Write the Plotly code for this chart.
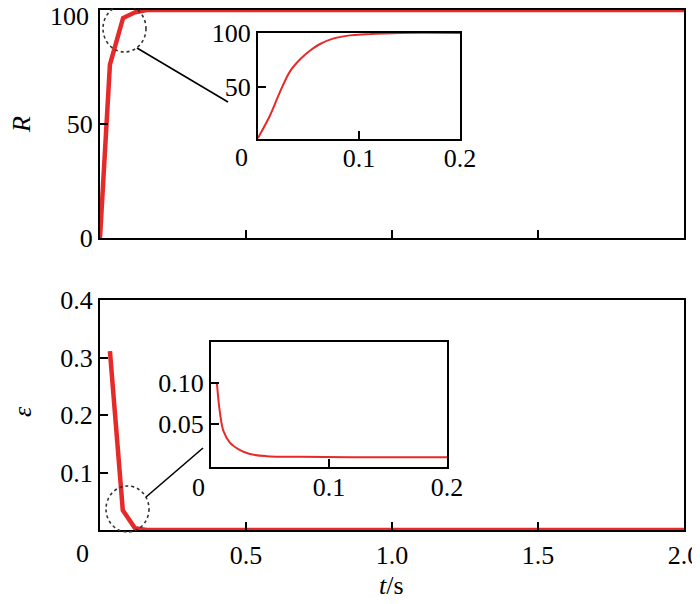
import plotly.graph_objects as go

# ---- data ----
t_main_R = [0, 0.034, 0.079, 0.12, 0.16, 2.0]
R_main = [0, 76, 96.5, 99, 100, 100]

t_main_eps = [0.034, 0.078, 0.12, 0.16, 2.0]
eps_main = [0.311, 0.0345, 0.003, 0.0, 0.0]

t_in_R = [0, 0.012, 0.022, 0.032, 0.042, 0.052, 0.061, 0.075, 0.091, 0.107, 0.14, 0.2]
R_in = [3, 24, 46, 65, 76, 84, 89.6, 95, 97.8, 98.8, 100, 100]

t_in_eps = [0.005, 0.0076, 0.0105, 0.016, 0.0246, 0.033, 0.047, 0.0755, 0.118, 0.2]
eps_in = [0.10, 0.0637, 0.042, 0.0277, 0.0185, 0.0137, 0.0112, 0.0104, 0.010, 0.010]

main_x_ticks = [0, 0.5, 1.0, 1.5, 2.0]
main_x_labels = ["", "0.5", "1.0", "1.5", "2.0"]
R_ticks = [0, 50, 100]
R_labels = ["0", "50", ""]          # top "100" placed separately (page edge)
eps_ticks = [0.1, 0.2, 0.3, 0.4]
inset_x_ticks = [0, 0.1, 0.2]
inset_x_labels = ["", "0.1", "0.2"]
inset_R_ticks = [50, 100]
inset_eps_ticks = [0.05, 0.10]

# page body has an 8px default margin; lay out in window pixels
OFF = 8
W, H = 700 - OFF, 604 - OFF
RED = "#e62a2a"
FONT = "'Liberation Serif', 'Times New Roman', Times, serif"
FS = 26


def px(x):
    return (x - OFF) / W


def py(y):
    return 1 - (y - OFF) / H


def xd(a, b):
    return [px(a), px(b)]


def yd(top, bottom):
    return [py(bottom), py(top)]


fig = go.Figure()
fig.add_trace(go.Scatter(x=t_main_R, y=R_main, mode="lines",
                         line=dict(color=RED, width=4.5), xaxis="x", yaxis="y"))
fig.add_trace(go.Scatter(x=t_main_eps, y=eps_main, mode="lines",
                         line=dict(color=RED, width=4.5), xaxis="x2", yaxis="y2"))
fig.add_trace(go.Scatter(x=t_in_R, y=R_in, mode="lines", line_shape="spline",
                         line=dict(color=RED, width=2), xaxis="x3", yaxis="y3"))
fig.add_trace(go.Scatter(x=t_in_eps, y=eps_in, mode="lines", line_shape="spline",
                         line=dict(color=RED, width=2), xaxis="x4", yaxis="y4"))

common = dict(showline=True, linecolor="black", linewidth=2, mirror=True,
              ticks="inside", ticklen=8, tickwidth=1.6, tickcolor="black",
              showgrid=False, zeroline=False, automargin=False,
              ticklabeloverflow="allow",
              tickfont=dict(family=FONT, size=FS, color="black"))

fig.update_layout(
    width=W, height=H, showlegend=False,
    margin=dict(l=0, r=0, t=0, b=0, autoexpand=False),
    font=dict(family=FONT, size=FS, color="black"),
    paper_bgcolor="white", plot_bgcolor="rgba(0,0,0,0)",
    xaxis=dict(domain=xd(100, 684), range=[0, 2.0], anchor="y",
               tickvals=main_x_ticks, showticklabels=False, **common),
    yaxis=dict(domain=yd(10, 238), range=[0, 100], anchor="x",
               tickvals=R_ticks, ticktext=R_labels, **common),
    xaxis2=dict(domain=xd(100, 684), range=[0, 2.0], anchor="y2",
                tickvals=main_x_ticks, ticktext=main_x_labels,
                ticklabelstandoff=1, **common),
    yaxis2=dict(domain=yd(300, 530), range=[0, 0.4], anchor="x2",
                tickvals=eps_ticks, tickformat=".1f", **common),
    xaxis3=dict(domain=xd(258, 460), range=[0, 0.2], anchor="y3",
                tickvals=inset_x_ticks, ticktext=inset_x_labels,
                ticklabelstandoff=-5, **common),
    yaxis3=dict(domain=yd(33, 139), range=[2, 100], anchor="x3",
                tickvals=inset_R_ticks, **common),
    xaxis4=dict(domain=xd(211, 447), range=[0, 0.2], anchor="y4",
                tickvals=inset_x_ticks, ticktext=inset_x_labels,
                ticklabelstandoff=-4, **common),
    yaxis4=dict(domain=yd(342, 467), range=[-0.002, 0.15], anchor="x4",
                tickvals=inset_eps_ticks, tickformat=".2f", **common),
)

shapes = [
    dict(type="circle", xref="paper", yref="paper", x0=px(103), x1=px(146),
         y0=py(52), y1=py(5), line=dict(color="#333333", width=1.6, dash="dot")),
    dict(type="circle", xref="paper", yref="paper", x0=px(106), x1=px(149),
         y0=py(532), y1=py(486), line=dict(color="#333333", width=1.6, dash="dot")),
    dict(type="line", xref="paper", yref="paper", x0=px(137), y0=py(48),
         x1=px(228), y1=py(102), line=dict(color="black", width=1.6)),
    dict(type="line", xref="paper", yref="paper", x0=px(146), y0=py(497),
         x1=px(203), y1=py(448), line=dict(color="black", width=1.6)),
]
fig.update_layout(shapes=shapes)

tf = dict(family=FONT, size=FS, color="black")
ann = dict(showarrow=False, font=tf, xanchor="center", yanchor="middle")
annotations = [
    dict(text=str(R_ticks[-1]), x=px(91), xref="paper", y=R_ticks[-1], yref="y",
         yshift=-6, showarrow=False, font=tf, xanchor="right", yanchor="middle"),
    dict(text="0", x=0, xref="x2", y=py(553), yref="paper", xshift=-17, **ann),
    dict(text="0", x=0, xref="x3", y=py(157), yref="paper", xshift=-17, **ann),
    dict(text="0", x=0, xref="x4", y=py(487), yref="paper", xshift=-13, **ann),
    dict(text="<i>R</i>", x=px(22), y=py(125), xref="paper", yref="paper",
         textangle=-90, **ann),
    dict(text="<i>ε</i>", x=px(22), y=py(412), xref="paper", yref="paper",
         textangle=-90, **ann),
    dict(text="<i>t</i>/s", x=px(392), y=py(585), xref="paper", yref="paper",
         **ann),
]
fig.update_layout(annotations=annotations)

fig.write_html("out.html")
